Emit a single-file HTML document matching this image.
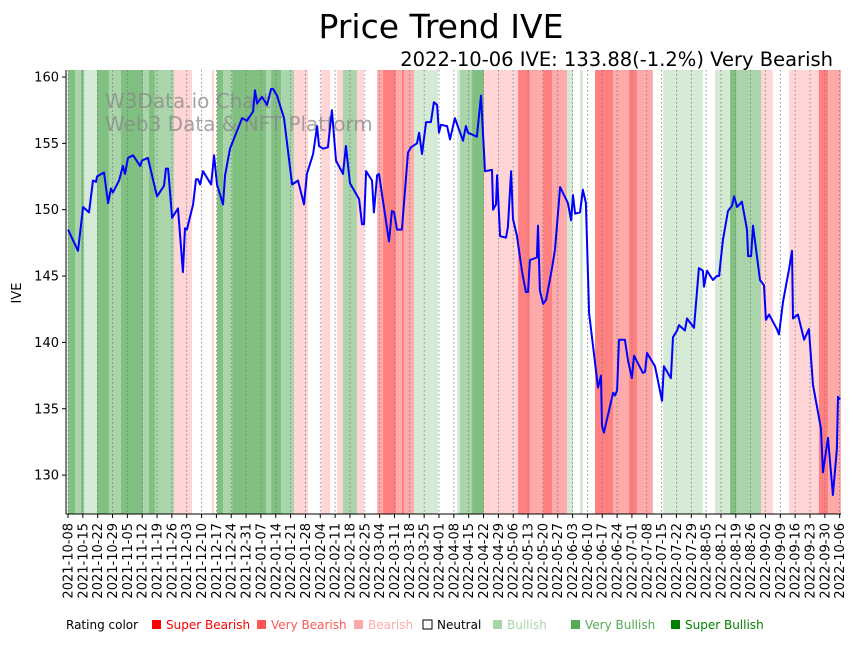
<!DOCTYPE html>
<html><head><meta charset="utf-8"><style>
body{margin:0;background:#fff;}
svg text{font-family:"DejaVu Sans","Liberation Sans",sans-serif;}
</style></head><body>
<svg id="chart" width="860" height="641" viewBox="0 0 860 641" xmlns="http://www.w3.org/2000/svg">
<rect width="860" height="641" fill="#fff"/>
<g id="bands"></g>
<g id="grid"></g>
<text x="105" y="108" font-size="20" fill="#888" fill-opacity="0.75">W3Data.io Chart</text>
<text x="105" y="131" font-size="20" fill="#888" fill-opacity="0.75">Web3 Data &amp; NFT Platform</text>
<polyline id="line" fill="none" stroke="#0000ff" stroke-width="2" stroke-linejoin="round"/>
<g id="axes"></g>
<text x="441" y="38" font-size="33" text-anchor="middle" fill="#000">Price Trend IVE</text>
<text x="833" y="66" font-size="19.5" text-anchor="end" fill="#000">2022-10-06 IVE: 133.88(-1.2%) Very Bearish</text>
<text transform="translate(21,293) rotate(-90)" font-size="13" text-anchor="middle">IVE</text>
<g id="legend" font-size="12">
<text x="66" y="629">Rating color</text>
<rect x="152" y="620" width="9" height="9" fill="#ff0000"/><text x="166" y="629" fill="#ff0000">Super Bearish</text>
<rect x="257" y="620" width="9" height="9" fill="#ff5555"/><text x="271" y="629" fill="#ff5555">Very Bearish</text>
<rect x="354" y="620" width="9" height="9" fill="#ffaaaa"/><text x="368" y="629" fill="#ffaaaa">Bearish</text>
<rect x="423" y="620" width="9" height="9" fill="#fff" stroke="#000"/><text x="437" y="629" fill="#000">Neutral</text>
<rect x="493" y="620" width="9" height="9" fill="#aad5aa"/><text x="507" y="629" fill="#aad5aa">Bullish</text>
<rect x="571" y="620" width="9" height="9" fill="#55aa55"/><text x="585" y="629" fill="#55aa55">Very Bullish</text>
<rect x="671" y="620" width="9" height="9" fill="#008000"/><text x="685" y="629" fill="#008000">Super Bullish</text>
</g>
</svg>
<script>
const priceDays=[0,4.7,7.1,9.9,11.8,13.2,13.7,17.0,18.9,20.3,21.2,24.1,25.9,26.9,28.3,30.7,34.0,34.9,37.7,42.0,45.3,46.2,47.2,49.1,51.9,54.2,55.2,56.1,59.0,60.4,61.3,62.3,63.7,67.5,68.9,70.3,73.1,74.1,76.4,82.1,84.4,87.3,88.2,89.2,91.5,93.9,95.8,96.7,98.6,101.9,105.7,108.5,111.3,112.7,115.6,117.5,118.4,120.3,122.6,124.5,126.4,129.7,131.1,133.0,137.3,138.7,139.6,140.6,143.4,144.3,145.8,146.7,149.1,151.4,152.8,153.8,155.2,157.5,160.4,161.8,164.6,165.6,167.0,168.9,171.2,172.6,174.1,175.0,175.9,178.8,180.2,182.5,186.3,187.7,188.7,192.9,194.8,196.7,200.0,200.5,201.9,202.4,203.8,206.6,207.5,209.0,209.9,211.8,214.2,216.0,217.0,217.9,221.2,221.7,222.6,224.1,225.5,228.3,229.7,232.1,235.8,237.3,238.2,239.2,241.5,242.9,244.3,245.8,250.0,251.4,251.9,252.8,257.1,258.0,259.0,259.9,262.7,264.2,266.0,267.0,271.2,272.2,273.1,276.9,278.3,280.2,281.1,284.4,285.4,287.3,288.2,291.0,292.0,295.3,297.6,299.5,300.0,301.4,304.2,306.1,307.1,308.5,309.0,311.3,313.2,314.2,315.6,317.9,320.3,320.8,322.2,323.1,326.4,328.3,329.2,330.7,334.4,335.4,337.3,340.1,341.5,342.0,344.3,347.2,349.5,351.4,355.2,356.1,358.5,360.8,362.7,363.2,364.2];
const priceValues=[148.5,146.9,150.2,149.8,152.2,152.1,152.5,152.8,150.5,151.6,151.3,152.2,153.3,152.7,153.9,154.1,153.3,153.7,153.9,151.0,151.8,153.1,153.1,149.4,150.1,145.3,148.6,148.5,150.4,152.3,152.3,151.9,152.9,151.9,154.1,151.9,150.4,152.6,154.6,156.9,156.7,157.4,159.0,158.0,158.5,157.9,159.1,159.1,158.6,156.9,151.9,152.2,150.4,152.7,154.2,156.3,154.8,154.6,154.7,157.5,153.7,152.7,154.8,152.0,150.8,148.9,148.9,152.9,152.2,149.8,152.6,152.7,150.1,147.6,149.9,149.8,148.5,148.5,154.3,154.7,155.0,155.8,154.2,156.6,156.6,158.1,157.9,155.8,156.4,156.3,155.3,156.9,155.2,156.3,155.8,155.5,158.6,152.9,153.0,150.0,150.4,152.6,148.0,147.9,148.7,152.9,149.3,148.0,145.3,143.8,143.8,146.2,146.4,148.8,143.9,142.9,143.2,145.6,147.0,151.7,150.5,149.2,151.1,149.7,149.8,151.5,150.5,142.2,136.6,137.5,133.7,133.2,136.2,136.0,136.4,140.2,140.2,138.6,137.3,139.0,137.7,137.8,139.2,138.2,137.1,135.6,138.2,137.3,140.4,140.9,141.3,140.9,141.8,141.1,145.6,145.4,144.2,145.4,144.7,145.0,145.0,147.1,147.8,149.9,150.3,151.0,150.2,150.6,148.5,146.5,146.5,148.8,144.7,144.3,141.7,142.1,141.0,140.6,143.1,145.5,146.9,141.8,142.1,140.2,141.0,136.8,133.5,130.2,132.8,128.5,132.0,135.9,135.7,133.8];
const bandStarts=[0,3.3,6.1,7.5,13.7,19.3,25,35.4,38.2,41,50,58.5,67.9,68.9,70.3,73.1,77.4,93.4,95.8,100.5,106.6,113.2,119.3,123.6,126.9,129.7,136.3,139.6,145.8,148.6,154.7,157.5,158.5,163.2,174.5,183.5,184.9,190.6,196.2,212.3,217.9,224.1,228.3,235.4,238.2,241.5,242.9,248.6,257.1,264.6,268.4,275.9,280.7,299.5,305.2,312.3,315.1,326.9,332.5,340.1,354.2,358.5,364.6];
const bandRatings=["SBu","VBu","SBu","Bu","SBu","VBu","SBu","VBu","SBu","VBu","Br","N","Br","N","SBu","VBu","SBu","VBu","SBu","VBu","Br","N","Br","N","Br","VBu","Br","N","VBr","SBr","VBr","SBr","VBr","Bu","N","Bu","VBu","SBu","Br","SBr","VBr","SBr","VBr","Bu","N","Bu","N","SBr","VBr","SBr","VBr","N","Bu","N","Bu","SBu","VBu","Br","N","Br","SBr","VBr"];
const yTicks=[130,135,140,145,150,155,160];
const xTickLabels=["2021-10-08","2021-10-15","2021-10-22","2021-10-29","2021-11-05","2021-11-12","2021-11-19","2021-11-26","2021-12-03","2021-12-10","2021-12-17","2021-12-24","2021-12-31","2022-01-07","2022-01-14","2022-01-21","2022-01-28","2022-02-04","2022-02-11","2022-02-18","2022-02-25","2022-03-04","2022-03-11","2022-03-18","2022-03-25","2022-04-01","2022-04-08","2022-04-15","2022-04-22","2022-04-29","2022-05-06","2022-05-13","2022-05-20","2022-05-27","2022-06-03","2022-06-10","2022-06-17","2022-06-24","2022-07-01","2022-07-08","2022-07-15","2022-07-22","2022-07-29","2022-08-05","2022-08-12","2022-08-19","2022-08-26","2022-09-02","2022-09-09","2022-09-16","2022-09-23","2022-09-30","2022-10-06"];
const ratingColors={SBr:"#ff8080",VBr:"#ffaaaa",Br:"#ffd5d5",N:"#ffffff",Bu:"#d5ead5",VBu:"#aad5aa",SBu:"#80c080"};
const L=66,R=841,T=70,B=514;
const xs=d=>68+d*2.12;
const ys=p=>77+(160-p)*13.27;
const NS="http://www.w3.org/2000/svg";
function mk(tag,attrs,parent){const e=document.createElementNS(NS,tag);for(const k in attrs)e.setAttribute(k,attrs[k]);parent.appendChild(e);return e;}
const bands=document.getElementById('bands');
for(let i=0;i<bandRatings.length;i++){
  const x0=Math.max(L,xs(bandStarts[i])),x1=Math.min(R,xs(bandStarts[i+1]));
  const r=mk('rect',{x:x0,y:T,width:Math.max(0,x1-x0),height:B-T,fill:ratingColors[bandRatings[i]]},bands);
  
  
}
const grid=document.getElementById('grid'),axes=document.getElementById('axes');
xTickLabels.forEach((lab,i)=>{
  const x=xs(i*7);
  const g=mk('line',{x1:x,x2:x,y1:T,y2:B,stroke:'#777',"stroke-width":0.8,"stroke-dasharray":"1.5,2.5"},grid);
  
  
  mk('line',{x1:x,x2:x,y1:B,y2:B+4,stroke:'#000'},axes);
  const t=mk('text',{transform:`translate(${x+4.5},${B+9}) rotate(-90)`,"font-size":13,"text-anchor":"end"},axes);
  t.textContent=lab;
  
  
});
yTicks.forEach(v=>{
  const y=ys(v);
  mk('line',{x1:L-4,x2:L,y1:y,y2:y,stroke:'#000'},axes);
  const t=mk('text',{x:L-7,y:y+4.5,"font-size":13,"text-anchor":"end"},axes);
  t.textContent=v;
  
  
});
mk('line',{x1:L,x2:L,y1:T,y2:B,stroke:'#000',"stroke-width":1},axes);
mk('line',{x1:L,x2:R,y1:B,y2:B,stroke:'#000',"stroke-width":1},axes);
document.getElementById('line').setAttribute('points',priceDays.map((d,i)=>xs(d).toFixed(1)+','+ys(priceValues[i]).toFixed(1)).join(' '));
</script>
</body></html>
